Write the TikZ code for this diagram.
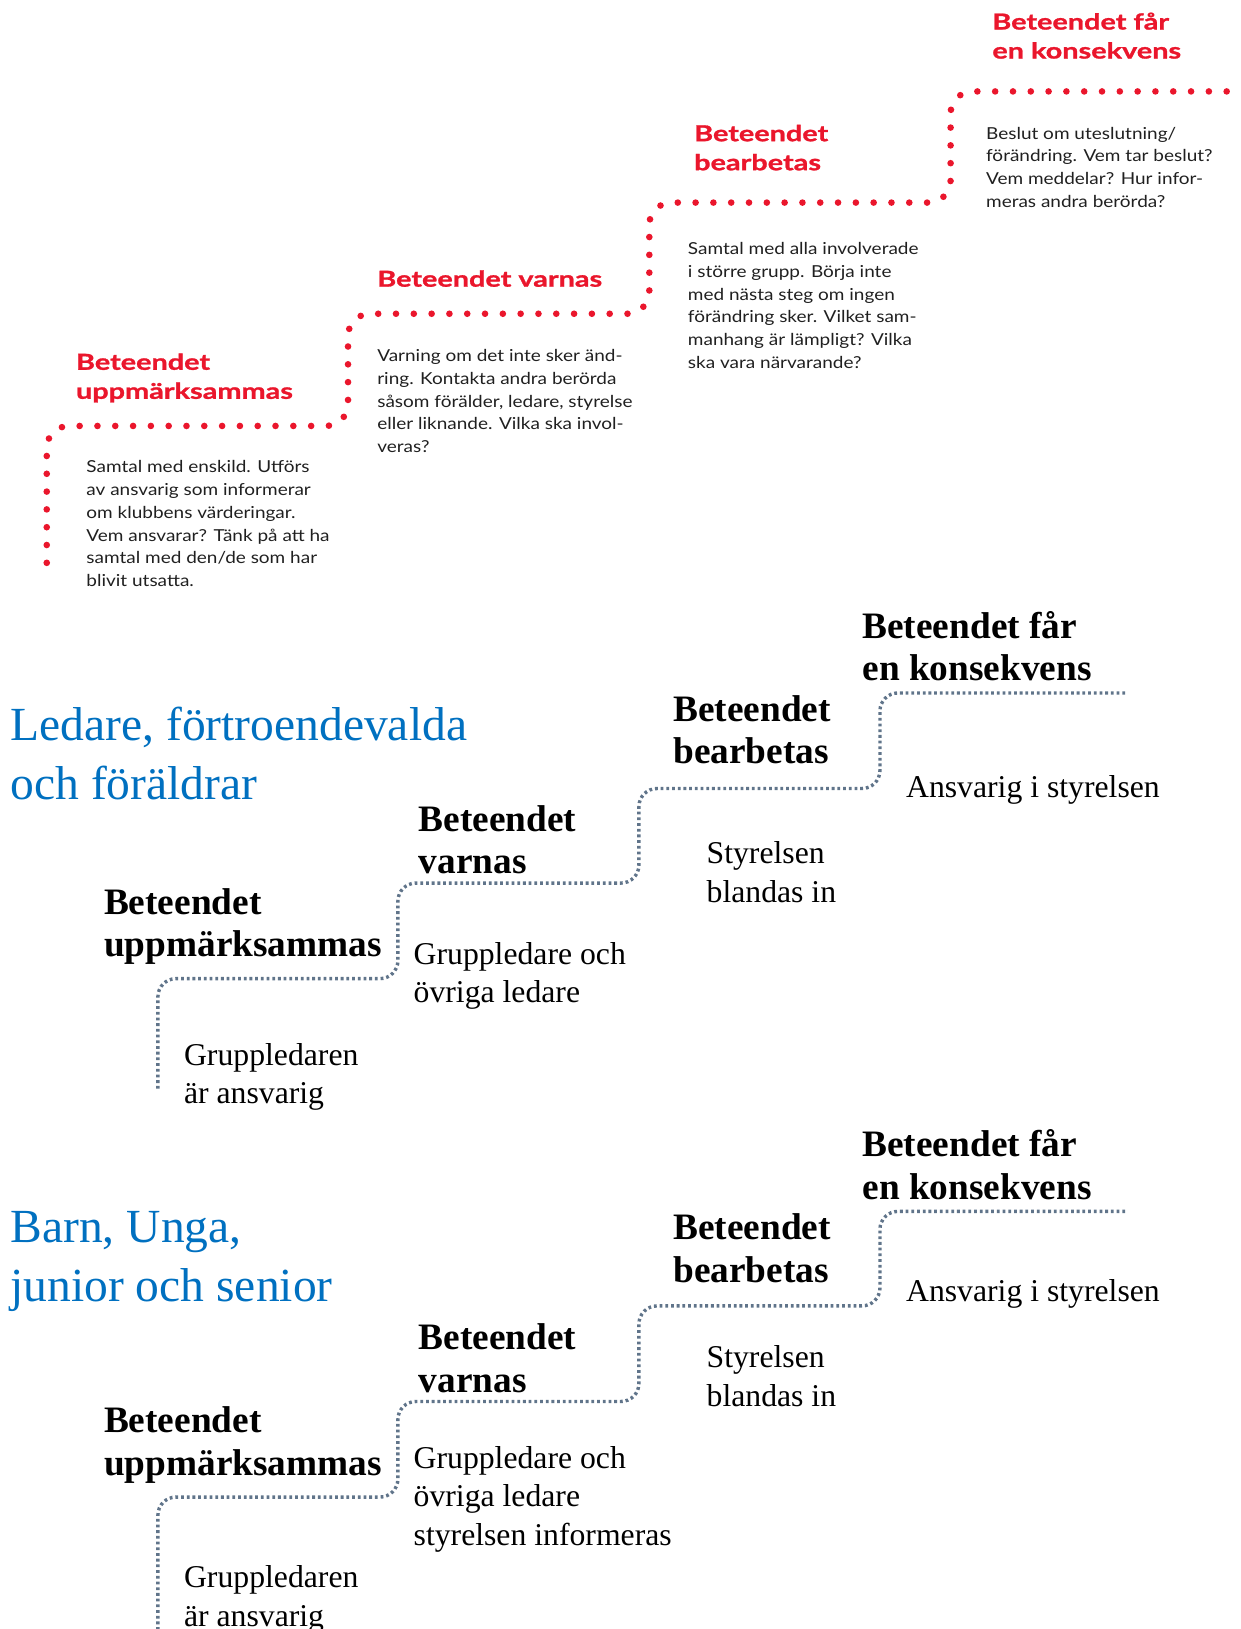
\documentclass[tikz,border=0pt]{standalone}
\usepackage{fontspec}
\setmainfont{Liberation Serif}
\newfontfamily\gillfont[FakeStretch=1.15]{Lato}
\newfontfamily\gillhead[FakeStretch=1.31,FakeBold=1.2]{Lato}
\definecolor{redtxt}{RGB}{234,22,44}
\definecolor{bluetxt}{RGB}{0,112,192}
\definecolor{graydot}{RGB}{96,116,138}
\definecolor{bodygray}{RGB}{32,32,32}
\begin{document}
\begin{tikzpicture}[x=1.0385pt,y=-1.0385pt,
  redhead/.style={anchor=north west, inner sep=0pt, align=left, text=redtxt,
    font=\gillhead\bfseries\fontsize{22pt}{29pt}\selectfont},
  redbody/.style={anchor=north west, inner sep=0pt, align=left, text=bodygray,
    font=\gillfont\fontsize{16.5pt}{22.8pt}\selectfont},
  serhead/.style={anchor=north west, inner sep=0pt, align=left,
    font=\bfseries\fontsize{37.3pt}{42.6pt}\selectfont},
  serbody/.style={anchor=north west, inner sep=0pt, align=left,
    font=\fontsize{31.7pt}{38.4pt}\selectfont},
  titletext/.style={anchor=north west, inner sep=0pt, align=left, text=bluetxt,
    font=\fontsize{47.5pt}{59.2pt}\selectfont},
  reddots/.style={draw=redtxt, line width=6.6pt, line cap=round,
    dash pattern=on 0pt off 17.8pt, rounded corners=22pt},
  graydots/.style={draw=graydot, line width=3.4pt,
    dash pattern=on 2.8pt off 2.9pt, rounded corners=18pt}]
\useasboundingbox (0,0) rectangle (1194,1568);
\clip (0,0) rectangle (1194,1568);

% ---------- top (red) staircase ----------
\draw[reddots] (1215,88) -- (915,88) -- (915,195) -- (625,195) -- (625,302)
  -- (335,302) -- (335,410) -- (45,410) -- (45,552);

\node[redhead] (r4) at (955,12) {Beteendet får\\en konsekvens};
\node[redhead] (r3) at (668,120) {Beteendet\\bearbetas};
\node[redhead] (r2) at (363,260) {Beteendet varnas};
\node[redhead] (r1) at (73,340) {Beteendet\\uppmärksammas};

\node[redbody] (d4) at (949,122) {Beslut om uteslutning/\\förändring. Vem tar beslut?\\Vem meddelar? Hur infor-\\meras andra berörda?};
\node[redbody] (d3) at (662,233) {Samtal med alla involverade\\i större grupp. Börja inte\\med nästa steg om ingen\\förändring sker. Vilket sam-\\manhang är lämpligt? Vilka\\ska vara närvarande?};
\node[redbody] (d2) at (363,336) {Varning om det inte sker änd-\\ring. Kontakta andra berörda\\såsom förälder, ledare, styrelse\\eller liknande. Vilka ska invol-\\veras?};
\node[redbody] (d1) at (83,443) {Samtal med enskild. Utförs\\av ansvarig som informerar\\om klubbens värderingar.\\Vem ansvarar? Tänk på att ha\\samtal med den/de som har\\blivit utsatta.};

% ---------- middle staircase ----------
\node[titletext] (t1) at (10,680) {Ledare, förtroendevalda\\och föräldrar};
\draw[graydots] (1083,667) -- (847,667) -- (847,759) -- (615,759) -- (615,850)
  -- (383,850) -- (383,942) -- (152,942) -- (152,1050);
\node[serhead] (a4) at (830,588) {Beteendet får\\en konsekvens};
\node[serhead] (a3) at (648,669) {Beteendet\\bearbetas};
\node[serhead] (a2) at (403,775) {Beteendet\\varnas};
\node[serhead] (a1) at (100,855) {Beteendet\\uppmärksammas};
\node[serbody] (b4) at (872,746) {Ansvarig i styrelsen};
\node[serbody] (b3) at (680,810) {Styrelsen\\blandas in};
\node[serbody] (b2) at (398,907) {Gruppledare och\\övriga ledare};
\node[serbody] (b1) at (177,1004) {Gruppledaren\\är ansvarig};

% ---------- bottom staircase ----------
\node[titletext] (t2) at (10,1166) {Barn, Unga,\\junior och senior};
\draw[graydots] (1083,1166) -- (847,1166) -- (847,1257) -- (615,1257) -- (615,1349)
  -- (383,1349) -- (383,1441) -- (152,1441) -- (152,1580);
\node[serhead] (c4) at (830,1087) {Beteendet får\\en konsekvens};
\node[serhead] (c3) at (648,1168) {Beteendet\\bearbetas};
\node[serhead] (c2) at (403,1274) {Beteendet\\varnas};
\node[serhead] (c1) at (100,1354) {Beteendet\\uppmärksammas};
\node[serbody] (e4) at (872,1231) {Ansvarig i styrelsen};
\node[serbody] (e3) at (680,1295) {Styrelsen\\blandas in};
\node[serbody] (e2) at (398,1392) {Gruppledare och\\övriga ledare\\styrelsen informeras};
\node[serbody] (e1) at (177,1507) {Gruppledaren\\är ansvarig};
\end{tikzpicture}
\end{document}
